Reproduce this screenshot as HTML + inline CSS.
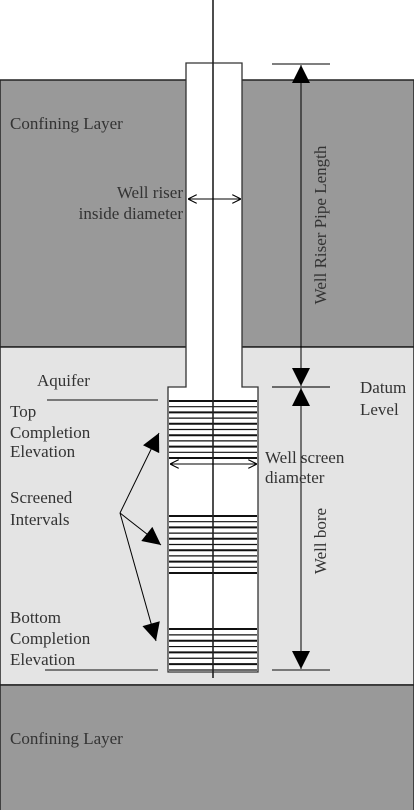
<!DOCTYPE html>
<html><head><meta charset="utf-8"><style>
html,body{margin:0;padding:0;background:#fff}
svg{display:block}
text{font-family:"Liberation Serif",serif;font-size:17px;fill:#333}
</style></head><body>
<svg width="414" height="810" viewBox="0 0 414 810">
<defs>
<marker id="ah" viewBox="0 0 10 10" refX="10" refY="5" markerWidth="10" markerHeight="10" markerUnits="userSpaceOnUse" orient="auto"><path d="M0,0 L10,5 L0,10 Z" fill="#000"/></marker>
<marker id="ab" viewBox="0 0 10 10" refX="10" refY="5" markerWidth="22" markerHeight="18" markerUnits="userSpaceOnUse" orient="auto"><path d="M0,0 L10,5 L0,10 Z" fill="#000"/></marker>
<marker id="ao" viewBox="0 0 10 10" refX="10" refY="5" markerWidth="9" markerHeight="9" markerUnits="userSpaceOnUse" orient="auto"><path d="M0,0 L10,5 L0,10" fill="none" stroke="#000" stroke-width="1.2"/></marker>
</defs>
<rect x="0" y="80" width="414" height="267" fill="#999" stroke="#222" stroke-width="1.5"/>
<rect x="0" y="347" width="414" height="338" fill="#e4e4e4" stroke="#222" stroke-width="1.5"/>
<rect x="0" y="685" width="414" height="130" fill="#999" stroke="#222" stroke-width="1.5"/>
<path d="M186,63 L242,63 L242,387 L258,387 L258,672 L168,672 L168,387 L186,387 Z" fill="#fff" stroke="#333" stroke-width="1.3"/>
<g id="screens"></g>
<line x1="213" y1="0" x2="213" y2="678" stroke="#222" stroke-width="1.6"/>
<line x1="200" y1="199" x2="188" y2="199" stroke="#000"/>
<line x1="200" y1="199" x2="188" y2="199" stroke="#000" marker-end="url(#ao)"/>
<line x1="200" y1="199" x2="241" y2="199" stroke="#000" marker-end="url(#ao)"/>
<line x1="213" y1="464" x2="170" y2="464" stroke="#000" marker-end="url(#ao)"/>
<line x1="213" y1="464" x2="257" y2="464" stroke="#000" marker-end="url(#ao)"/>
<line x1="272" y1="64" x2="330" y2="64" stroke="#555" stroke-width="1.5"/>
<line x1="272" y1="387" x2="330" y2="387" stroke="#222" stroke-width="1.3"/>
<line x1="272" y1="670" x2="330" y2="670" stroke="#555" stroke-width="1.5"/>
<line x1="47" y1="400" x2="158" y2="400" stroke="#555" stroke-width="1.5"/>
<line x1="45" y1="670" x2="158" y2="670" stroke="#555" stroke-width="1.5"/>
<line x1="301" y1="230" x2="301" y2="65" stroke="#000" marker-end="url(#ab)"/>
<line x1="301" y1="230" x2="301" y2="386" stroke="#000" marker-end="url(#ab)"/>
<line x1="301" y1="530" x2="301" y2="388" stroke="#000" marker-end="url(#ab)"/>
<line x1="301" y1="530" x2="301" y2="669" stroke="#000" marker-end="url(#ab)"/>
<line x1="120" y1="513" x2="159" y2="433" stroke="#000" marker-end="url(#ab)"/>
<line x1="120" y1="513" x2="161" y2="545" stroke="#000" marker-end="url(#ab)"/>
<line x1="120" y1="513" x2="156" y2="641" stroke="#000" marker-end="url(#ab)"/>
<text x="10" y="129">Confining Layer</text>
<text x="183" y="198" text-anchor="end">Well riser</text>
<text x="183" y="219" text-anchor="end">inside diameter</text>
<text x="37" y="386">Aquifer</text>
<text x="10" y="417">Top</text>
<text x="10" y="438">Completion</text>
<text x="10" y="457">Elevation</text>
<text x="10" y="503">Screened</text>
<text x="10" y="525">Intervals</text>
<text x="10" y="623">Bottom</text>
<text x="10" y="644">Completion</text>
<text x="10" y="665">Elevation</text>
<text x="265" y="463">Well screen</text>
<text x="265" y="483">diameter</text>
<text x="360" y="393">Datum</text>
<text x="360" y="415">Level</text>
<text transform="translate(326,225) rotate(-90)" text-anchor="middle">Well Riser Pipe Length</text>
<text transform="translate(326,541) rotate(-90)" text-anchor="middle">Well bore</text>
<text x="10" y="744">Confining Layer</text>
</svg>
<script>
const screenTops=[401,516,629];
const screenBottoms=[458,573,670];
const g=document.getElementById('screens');
const ns='http://www.w3.org/2000/svg';
for(let b=0;b<screenTops.length;b++){
  const n=Math.round((screenBottoms[b]-screenTops[b])/5.8);
  const step=(screenBottoms[b]-screenTops[b])/n;
  for(let i=0;i<=n;i++){
    const y=screenTops[b]+i*step;
    const l=document.createElementNS(ns,'line');
    
    
    l.setAttribute('x1',169);l.setAttribute('x2',257);
    l.setAttribute('y1',y);l.setAttribute('y2',y);
    l.setAttribute('stroke','#111');
    l.setAttribute('stroke-width',i%2===0?2:1.2);
    g.appendChild(l);
  }
}
</script>
</body></html>
